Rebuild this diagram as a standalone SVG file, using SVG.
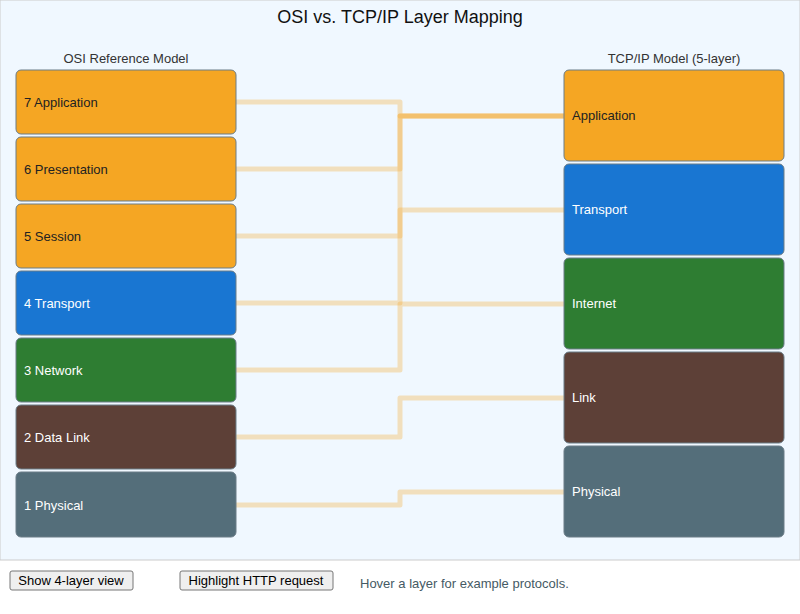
<svg xmlns="http://www.w3.org/2000/svg" width="800" height="614" viewBox="0 0 800 614">
<style>
text{font-family:"Liberation Sans",Arial,sans-serif}
.n{stroke:#6b7c87;stroke-width:1}
.l{font-size:13px;fill:#fff}
.d{fill:#222}
.c path{fill:none;stroke:#f5a623;stroke-opacity:0.3;stroke-width:5;stroke-linejoin:round;stroke-linecap:round}
.b{fill:#efefef;stroke:#767676;stroke-width:1}
</style>
<rect width="800" height="614" fill="#fff"/>
<rect x="0" y="0" width="800" height="560" fill="#f0f8ff" stroke="#ccc"/>
<text x="400" y="23" text-anchor="middle" font-size="18" fill="#111">OSI vs. TCP/IP Layer Mapping</text>
<text x="126" y="63" text-anchor="middle" font-size="13" fill="#333">OSI Reference Model</text>
<text x="674" y="63" text-anchor="middle" font-size="13" fill="#333">TCP/IP Model (5-layer)</text>
<g class="c">
<path d="M236 102H400V116H564"/>
<path d="M236 169H400V116H564"/>
<path d="M236 236H400V116H564"/>
<path d="M236 303H400V210H564"/>
<path d="M236 370H400V304H564"/>
<path d="M236 437H400V398H564"/>
<path d="M236 505H400V492H564"/>
</g>
<g id="osi7"><rect class="n" x="16" y="70" width="220" height="64" rx="5" fill="#f5a623"/><text class="l d" x="24" y="107">7 Application</text></g>
<g id="osi6"><rect class="n" x="16" y="137" width="220" height="64" rx="5" fill="#f5a623"/><text class="l d" x="24" y="174">6 Presentation</text></g>
<g id="osi5"><rect class="n" x="16" y="204" width="220" height="64" rx="5" fill="#f5a623"/><text class="l d" x="24" y="241">5 Session</text></g>
<g id="osi4"><rect class="n" x="16" y="271" width="220" height="64" rx="5" fill="#1976d2"/><text class="l" x="24" y="308">4 Transport</text></g>
<g id="osi3"><rect class="n" x="16" y="338" width="220" height="64" rx="5" fill="#2e7d32"/><text class="l" x="24" y="375">3 Network</text></g>
<g id="osi2"><rect class="n" x="16" y="405" width="220" height="64" rx="5" fill="#5d4037"/><text class="l" x="24" y="442">2 Data Link</text></g>
<g id="osi1"><rect class="n" x="16" y="472" width="220" height="65" rx="5" fill="#546e7a"/><text class="l" x="24" y="510">1 Physical</text></g>
<g id="tcp-app"><rect class="n" x="564" y="70" width="220" height="91" rx="5" fill="#f5a623"/><text class="l d" x="572" y="120">Application</text></g>
<g id="tcp-transport"><rect class="n" x="564" y="164" width="220" height="91" rx="5" fill="#1976d2"/><text class="l" x="572" y="214">Transport</text></g>
<g id="tcp-internet"><rect class="n" x="564" y="258" width="220" height="91" rx="5" fill="#2e7d32"/><text class="l" x="572" y="308">Internet</text></g>
<g id="tcp-link"><rect class="n" x="564" y="352" width="220" height="91" rx="5" fill="#5d4037"/><text class="l" x="572" y="402">Link</text></g>
<g id="tcp-physical"><rect class="n" x="564" y="446" width="220" height="91" rx="5" fill="#546e7a"/><text class="l" x="572" y="496">Physical</text></g>
<g id="btn1"><rect class="b" x="10" y="571" width="123" height="19" rx="2"/><text x="71" y="585" text-anchor="middle" font-size="13" fill="#000">Show 4-layer view</text></g>
<g id="btn2"><rect class="b" x="180" y="571" width="153" height="19" rx="2"/><text x="256" y="585" text-anchor="middle" font-size="13" fill="#000">Highlight HTTP request</text></g>
<text x="360" y="588" font-size="13" fill="#455a64">Hover a layer for example protocols.</text>
</svg>
